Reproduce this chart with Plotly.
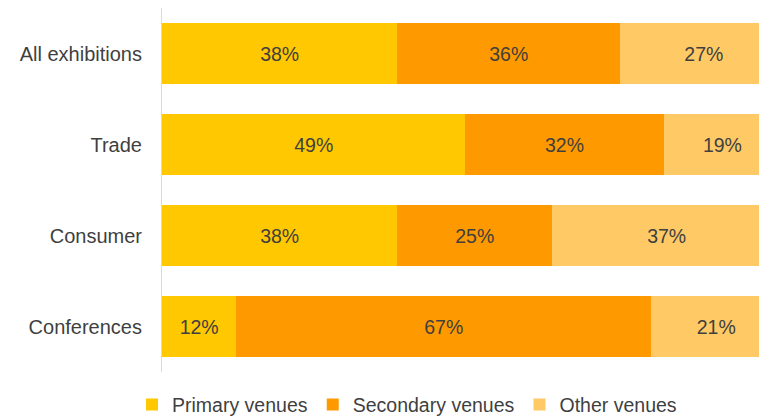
import plotly.graph_objects as go

categories = ["All exhibitions", "Trade", "Consumer", "Conferences"]
primary = [38, 49, 38, 12]
secondary = [36, 32, 25, 67]
other = [27, 19, 37, 21]
series_names = ["Primary venues", "Secondary venues", "Other venues"]
colors = ["#FFC800", "#FF9900", "#FFC966"]

FONT = "Liberation Sans, Arial, sans-serif"

fig = go.Figure()
for name, vals, col in zip(series_names, [primary, secondary, other], colors):
    fig.add_trace(go.Bar(
        y=categories, x=vals, name=name, orientation="h",
        marker=dict(color=col, line=dict(width=0)),
        text=[f"{v}%" for v in vals], textposition="inside",
        insidetextanchor="middle",
        textfont=dict(family=FONT, size=19.5, color="#3F3F3F"),
        cliponaxis=True,
    ))

# page body has an 8px margin, so the figure is sized to the visible area
fig.update_layout(
    barmode="stack",
    bargap=0.34,
    width=759, height=408,
    margin=dict(l=154, r=0, t=0, b=44, autoexpand=False),
    paper_bgcolor="white", plot_bgcolor="white",
    font=dict(family=FONT, size=20, color="#3F3F3F"),
    uniformtext=dict(mode="show", minsize=19),
    showlegend=True,
    legend=dict(orientation="h", x=0.405, xanchor="center", y=-0.09, yanchor="middle",
                font=dict(size=19.5, color="#3F3F3F"), traceorder="normal",
                itemwidth=30),
)
fig.update_xaxes(range=[0, 97.7], showgrid=False, showticklabels=False, zeroline=False,
                 showline=False, ticks="")
fig.update_yaxes(autorange="reversed", showgrid=False, showline=True, linecolor="#D9D9D9",
                 linewidth=1, ticks="", ticklabelstandoff=15,
                 tickfont=dict(size=20, color="#3F3F3F"))

fig.write_html("out.html")
